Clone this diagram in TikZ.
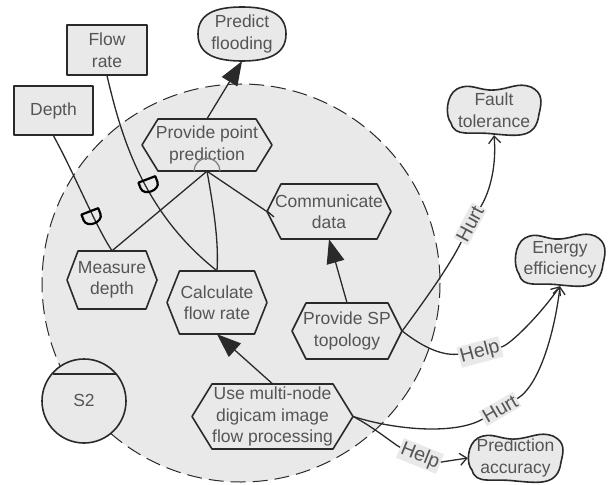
\documentclass[tikz,border=0pt]{standalone}
\usepackage{fontspec}
\setmainfont{Liberation Sans}
\usetikzlibrary{arrows.meta,calc}
\definecolor{ink}{HTML}{2A2A2A}
\definecolor{txt}{HTML}{555555}
\definecolor{shade}{HTML}{E9E9E9}
\tikzset{
  x=1pt,y=-1pt,
  every node/.style={font=\fontsize{17.5}{21.5}\selectfont,text=txt,align=center,inner sep=0pt},
  outline/.style={draw=ink,line width=1.6pt,fill=shade,line join=round},
  link/.style={draw=ink,line width=1.3pt},
  means/.style={link,-{Triangle[length=24pt,width=18pt,fill=ink]}},
  contrib/.style={link,-{Straight Barb[length=7pt,width=12pt]}},
  tag/.style={fill=shade,inner sep=1.5pt,font=\fontsize{19.5}{22}\selectfont},
  bound/.style={draw=ink,line width=1pt,fill=shade,dash pattern=on 15pt off 7pt},
  depmark/.style={draw=black,line width=2.2pt,line join=round}
}
% name, cx, cy, half width, half height, inset, text
\newcommand{\hexa}[7]{%
  \draw[outline] (#2-#4,#3) -- (#2-#4+#6,#3-#5) -- (#2+#4-#6,#3-#5) -- (#2+#4,#3) -- (#2+#4-#6,#3+#5) -- (#2-#4+#6,#3+#5) -- cycle;
  \node[minimum width=2*#4 pt,minimum height=2*#5 pt] (#1) at (#2,#3) {#7};}
% name, cx, cy, half width, half height, text
\newcommand{\softg}[6]{%
  \draw[outline] (#2-#4+10,#3-#5+4)
    .. controls (#2-#4/2,#3-#5-3) and (#2-#4/3,#3-#5+6) .. (#2,#3-#5+5)
    .. controls (#2+#4/3,#3-#5+4) and (#2+#4/2,#3-#5-3) .. (#2+#4-10,#3-#5+2)
    .. controls (#2+#4+2,#3-#5+8) and (#2+#4+1,#3-8) .. (#2+#4-2,#3+4)
    .. controls (#2+#4-5,#3+#5+4) and (#2+#4/2,#3+#5+1) .. (#2,#3+#5-1)
    .. controls (#2-#4/2,#3+#5-4) and (#2-#4+8,#3+#5+3) .. (#2-#4+4,#3+#5-12)
    .. controls (#2-#4-2,#3+6) and (#2-#4-1,#3-#5+10) .. cycle;
  \node[minimum width=2*#4 pt,minimum height=2*#5 pt] (#1) at (#2,#3) {#6};}
\newcommand{\depm}[2]{%
  \draw[depmark,rotate around={21:(#1,#2)}] (#1-9,#2-6) -- (#1+9,#2-6) -- (#1+9,#2) .. controls (#1+9,#2+9) and (#1-9,#2+9) .. (#1-9,#2) -- cycle;}
\begin{document}
\begin{tikzpicture}
\useasboundingbox (0,0) rectangle (609,484);
\draw[bound] (241,283) circle[radius=199];

% actors' resources
\node[outline,minimum width=79pt,minimum height=49pt] (depth) at (53.5,110.5) {Depth};
\node[outline,minimum width=80pt,minimum height=50pt] (flow) at (107,50) {Flow\\rate};

% softgoals
\draw[outline] (198,34) .. controls (198,14) and (215,7) .. (242,7) .. controls (269,7) and (286,14) .. (286,34) .. controls (286,54) and (269,61) .. (242,61) .. controls (215,61) and (198,54) .. cycle;
\node[minimum width=88pt,minimum height=54pt] (flood) at (242,34) {Predict\\flooding};
\softg{fault}{494}{110}{47}{25}{Fault\\tolerance}
\softg{energy}{560}{260}{45}{26}{Energy\\efficiency}
\softg{accu}{515.5}{458}{47.5}{24}{Prediction\\accuracy}

% tasks
\hexa{point}{207}{145}{65}{26}{16}{Provide point\\prediction}
\hexa{comm}{329}{211.5}{62}{27.5}{14}{Communicate\\data}
\hexa{measure}{112}{280}{45}{29}{11}{Measure\\depth}
\hexa{calc}{217}{302.5}{50}{31.5}{12.5}{Calculate\\flow rate}
\hexa{topo}{347}{331}{55}{28}{14}{Provide SP\\topology}
\hexa{multi}{272.5}{416.5}{80.5}{32.5}{20}{Use multi-node\\digicam image\\flow processing}

% S2
\draw[outline] (84,401) circle[radius=42];
\draw[link,line width=1.5pt] (53,374) -- (116,374);
\node (s2) at (84,400) {S2};

% decomposition
\coordinate (fork) at (point.south);
\draw[link,line width=1.2pt,draw=gray] ($(fork)+(-13,0)$) arc[start angle=180,end angle=360,radius=13];
\draw[link] (fork) -- (measure.north);
\draw[link] (fork) .. controls (213,205) and (219,240) .. (calc.north);
\draw[link] (fork) -- (comm.west);
\draw[link] (267,211) -- (274,217);

% dependencies
\draw[link] (depth.south) .. controls (75,175) and (95,225) .. (measure.north);
\draw[link] (flow.south) .. controls (120,130) and (140,210) .. (calc.north);
\depm{92}{217}
\depm{149}{185}

% means-end
\draw[means] (point.north) -- (flood.south);
\draw[means] (topo.north) -- (comm.south);
\draw[means] (multi.north) -- (calc.south);

% contributions
\node[tag,rotate=62] (hurtA) at (470,224) {Hurt};
\node[tag,rotate=15] (helpA) at (480,352) {Help};
\node[tag,rotate=30] (hurtB) at (500,409) {Hurt};
\node[tag,rotate=-22] (helpB) at (420,456) {Help};
\draw[link] (topo.east) .. controls (425,300) and (450,265) .. (hurtA);
\draw[contrib] (hurtA) .. controls (488,195) and (497,170) .. (fault.south);
\draw[link] (topo.east) .. controls (420,345) and (440,356) .. (helpA);
\draw[contrib] (helpA) .. controls (510,345) and (540,315) .. (energy.south);
\draw[link] (multi.east) .. controls (395,430) and (455,435) .. (hurtB);
\draw[contrib] (hurtB) .. controls (540,385) and (555,330) .. (energy.south);
\draw[link] (multi.east) .. controls (375,428) and (395,445) .. (helpB);
\draw[contrib] (helpB) .. controls (440,462) and (455,460) .. (accu.west);
\end{tikzpicture}
\end{document}
